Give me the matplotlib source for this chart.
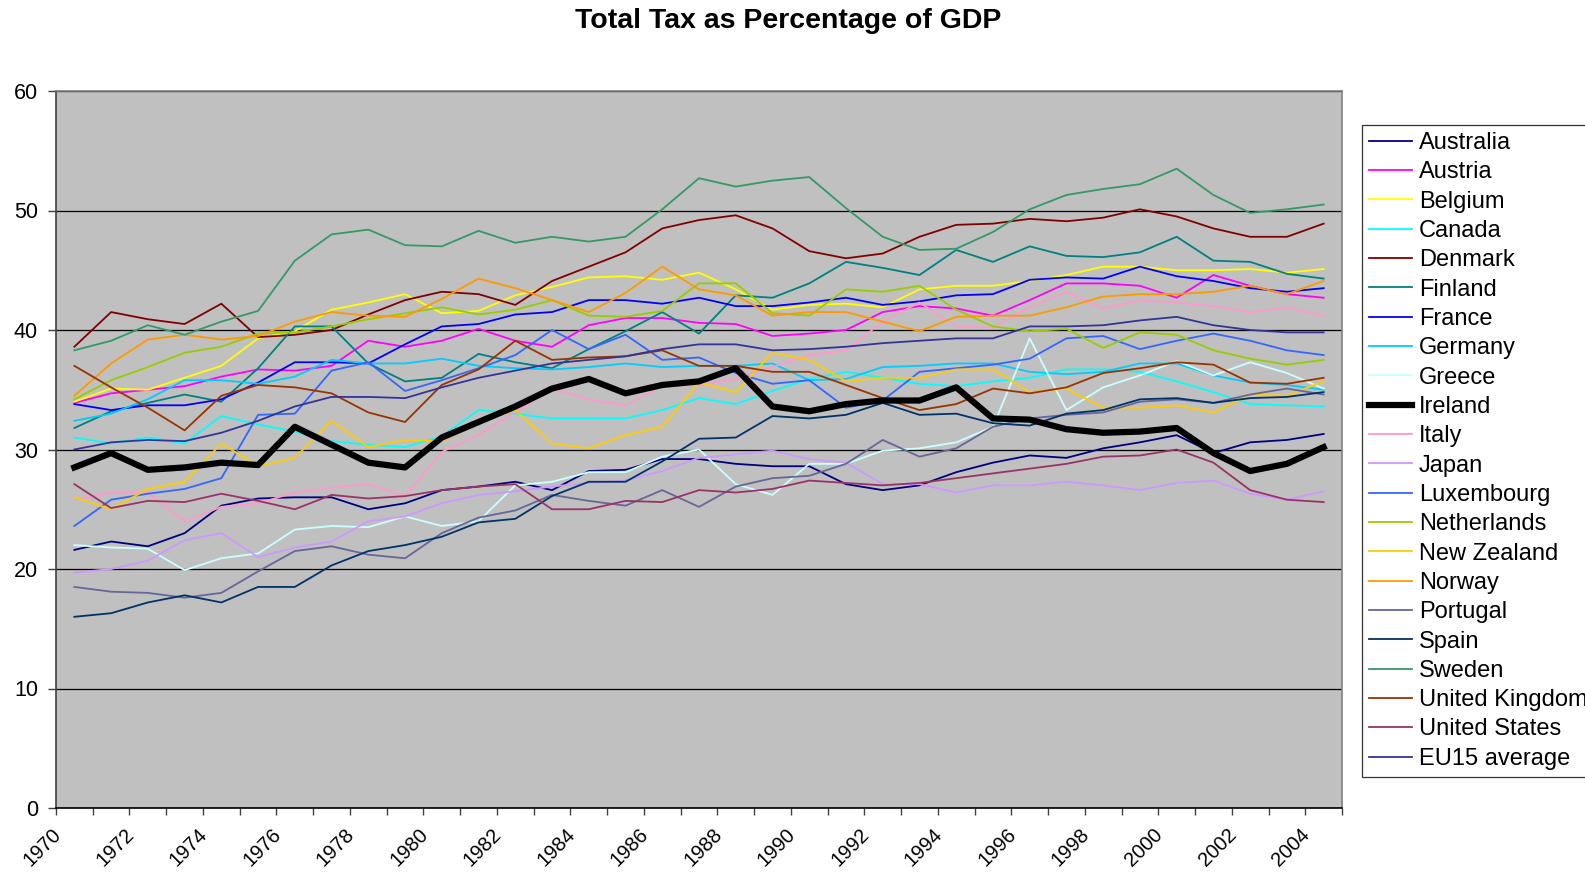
import numpy as np
import matplotlib.pyplot as plt
import matplotlib.transforms as mtransforms

plt.rcParams['font.family'] = ['Liberation Sans', 'DejaVu Sans']

years = list(range(1970, 2005))

australia = [21.6, 22.3, 21.9, 23.0, 25.3, 25.9, 26.0, 26.0, 25.0, 25.5, 26.6, 26.9,
             27.3, 26.6, 28.2, 28.3, 29.2, 29.2, 28.8, 28.6, 28.6, 27.1, 26.6, 27.0,
             28.1, 28.9, 29.5, 29.3, 30.1, 30.6, 31.2, 29.7, 30.6, 30.8, 31.3]
austria = [33.9, 34.7, 35.0, 35.3, 36.1, 36.7, 36.6, 37.0, 39.1, 38.6, 39.1, 40.1,
           39.1, 38.6, 40.4, 41.0, 41.0, 40.6, 40.5, 39.5, 39.7, 40.0, 41.5, 42.0,
           41.8, 41.2, 42.5, 43.9, 43.9, 43.7, 42.7, 44.6, 43.7, 43.0, 42.7]
belgium = [34.0, 35.1, 35.0, 36.0, 37.0, 39.3, 39.9, 41.7, 42.3, 43.0, 41.4, 41.6,
           42.9, 43.6, 44.4, 44.5, 44.2, 44.8, 43.4, 41.7, 42.1, 42.2, 41.9, 43.4,
           43.7, 43.7, 44.1, 44.6, 45.3, 45.3, 45.0, 45.0, 45.1, 44.8, 45.1]
canada = [31.0, 30.5, 31.0, 30.5, 32.8, 32.1, 31.5, 30.7, 30.4, 30.2, 31.1, 33.3,
          33.0, 32.6, 32.6, 32.6, 33.3, 34.3, 33.8, 34.9, 35.9, 36.5, 36.0, 35.5,
          35.3, 35.7, 36.0, 36.7, 36.7, 36.5, 35.7, 34.8, 33.8, 33.7, 33.6]
denmark = [38.6, 41.5, 40.9, 40.5, 42.2, 39.4, 39.6, 40.0, 41.3, 42.5, 43.2, 43.0,
           42.1, 44.1, 45.3, 46.5, 48.5, 49.2, 49.6, 48.5, 46.6, 46.0, 46.4, 47.8,
           48.8, 48.9, 49.3, 49.1, 49.4, 50.1, 49.5, 48.5, 47.8, 47.8, 48.9]
finland = [31.8, 33.2, 33.9, 34.6, 34.0, 36.8, 40.3, 40.3, 37.2, 35.7, 36.0, 38.0,
           37.3, 36.8, 38.4, 39.9, 41.5, 39.7, 42.9, 42.7, 43.9, 45.7, 45.2, 44.6,
           46.7, 45.7, 47.0, 46.2, 46.1, 46.5, 47.8, 45.8, 45.7, 44.7, 44.3]
france = [33.8, 33.3, 33.7, 33.7, 34.2, 35.6, 37.3, 37.3, 37.2, 38.8, 40.3, 40.5,
          41.3, 41.5, 42.5, 42.5, 42.2, 42.7, 42.0, 42.0, 42.3, 42.7, 42.1, 42.4,
          42.9, 43.0, 44.2, 44.4, 44.3, 45.3, 44.5, 44.1, 43.5, 43.2, 43.5]
germany = [32.4, 33.0, 34.2, 35.8, 35.8, 35.5, 36.1, 37.5, 37.2, 37.2, 37.6, 37.0,
           36.8, 36.7, 36.9, 37.2, 36.9, 37.0, 37.0, 37.2, 35.8, 35.9, 36.9, 37.0,
           37.2, 37.2, 36.5, 36.3, 36.5, 37.2, 37.2, 36.2, 35.6, 35.4, 35.0]
greece = [22.0, 21.8, 21.7, 19.9, 20.9, 21.3, 23.3, 23.6, 23.5, 24.4, 23.6, 24.0,
          27.0, 27.3, 28.1, 28.1, 29.4, 30.0, 27.1, 26.2, 28.8, 28.8, 29.9, 30.1,
          30.6, 31.9, 39.3, 33.3, 35.2, 36.2, 37.4, 36.2, 37.3, 36.4, 35.1]
ireland = [28.5, 29.7, 28.3, 28.5, 28.9, 28.7, 31.9, 30.4, 28.9, 28.5, 31.0, 32.3,
           33.6, 35.1, 35.9, 34.7, 35.4, 35.7, 36.8, 33.6, 33.2, 33.8, 34.1, 34.1,
           35.2, 32.6, 32.5, 31.7, 31.4, 31.5, 31.8, 29.7, 28.2, 28.8, 30.2]
italy = [25.8, 26.4, 26.4, 24.0, 25.2, 25.5, 26.4, 26.8, 27.1, 26.1, 29.8, 31.2,
         33.1, 35.1, 34.2, 33.7, 35.3, 35.4, 35.9, 36.9, 37.9, 38.3, 40.7, 42.3,
         40.3, 40.2, 41.9, 43.2, 41.8, 42.5, 42.3, 42.0, 41.5, 41.9, 41.2]
japan = [19.7, 20.0, 20.7, 22.4, 23.0, 21.0, 21.8, 22.3, 24.0, 24.4, 25.5, 26.2,
         26.5, 26.9, 27.2, 27.4, 28.2, 29.3, 29.6, 29.9, 29.2, 28.9, 27.1, 27.1,
         26.4, 27.0, 27.0, 27.3, 27.0, 26.6, 27.2, 27.4, 26.3, 25.8, 26.5]
luxembourg = [23.6, 25.8, 26.3, 26.7, 27.6, 32.9, 33.0, 36.6, 37.3, 34.9, 35.8, 36.8,
              37.9, 40.0, 38.4, 39.6, 37.5, 37.7, 36.4, 35.5, 35.8, 33.5, 34.1, 36.5,
              36.8, 37.1, 37.6, 39.3, 39.5, 38.4, 39.1, 39.7, 39.1, 38.3, 37.9]
netherlands = [34.2, 35.8, 36.9, 38.1, 38.6, 39.7, 39.8, 40.3, 40.9, 41.4, 41.9, 41.3,
               41.7, 42.5, 41.2, 41.1, 41.6, 43.9, 43.9, 41.4, 41.2, 43.4, 43.2, 43.7,
               41.7, 40.3, 39.9, 40.1, 38.5, 39.8, 39.6, 38.3, 37.6, 37.1, 37.5]
new_zealand = [26.0, 25.0, 26.7, 27.3, 30.5, 28.6, 29.3, 32.4, 30.2, 30.8, 30.7, 32.3,
               33.3, 30.5, 30.1, 31.2, 31.9, 35.6, 34.8, 38.1, 37.5, 35.7, 36.0, 36.0,
               36.7, 36.7, 34.8, 35.1, 33.5, 33.5, 33.7, 33.1, 34.6, 34.5, 35.7]
norway = [34.5, 37.2, 39.2, 39.6, 39.2, 39.5, 40.7, 41.5, 41.2, 41.1, 42.6, 44.3,
          43.5, 42.5, 41.5, 43.1, 45.3, 43.4, 42.9, 41.2, 41.5, 41.5, 40.7, 39.9,
          41.1, 41.2, 41.2, 41.9, 42.8, 43.0, 43.0, 43.2, 43.7, 43.0, 44.1]
portugal = [18.5, 18.1, 18.0, 17.6, 18.0, 19.8, 21.5, 21.9, 21.2, 20.9, 23.0, 24.3,
            24.9, 26.2, 25.7, 25.3, 26.6, 25.2, 26.9, 27.6, 27.8, 28.8, 30.8, 29.4,
            30.1, 31.9, 32.6, 32.9, 33.1, 34.0, 34.2, 33.9, 34.6, 35.1, 34.6]
spain = [16.0, 16.3, 17.2, 17.8, 17.2, 18.5, 18.5, 20.3, 21.5, 22.0, 22.7, 23.9,
         24.2, 26.1, 27.3, 27.3, 29.0, 30.9, 31.0, 32.8, 32.6, 32.9, 33.9, 32.9,
         33.0, 32.2, 32.0, 33.0, 33.3, 34.2, 34.3, 33.9, 34.3, 34.4, 34.8]
sweden = [38.3, 39.1, 40.4, 39.6, 40.7, 41.6, 45.8, 48.0, 48.4, 47.1, 47.0, 48.3,
          47.3, 47.8, 47.4, 47.8, 50.1, 52.7, 52.0, 52.5, 52.8, 50.2, 47.8, 46.7,
          46.8, 48.2, 50.1, 51.3, 51.8, 52.2, 53.5, 51.3, 49.8, 50.1, 50.5]
united_kingdom = [37.0, 35.2, 33.5, 31.6, 34.5, 35.4, 35.2, 34.7, 33.1, 32.3, 35.4, 36.7,
                  39.1, 37.5, 37.7, 37.8, 38.3, 37.0, 37.0, 36.5, 36.5, 35.4, 34.3, 33.3,
                  33.8, 35.1, 34.7, 35.2, 36.4, 36.8, 37.3, 37.1, 35.6, 35.5, 36.0]
united_states = [27.1, 25.1, 25.7, 25.6, 26.3, 25.7, 25.0, 26.2, 25.9, 26.1, 26.6, 26.9,
                 27.1, 25.0, 25.0, 25.7, 25.6, 26.6, 26.4, 26.7, 27.4, 27.2, 27.0, 27.2,
                 27.6, 28.0, 28.4, 28.8, 29.4, 29.5, 30.0, 28.9, 26.6, 25.8, 25.6]
eu15 = [30.0, 30.6, 30.8, 30.7, 31.4, 32.4, 33.6, 34.4, 34.4, 34.3, 35.2, 36.0,
        36.6, 37.2, 37.5, 37.8, 38.4, 38.8, 38.8, 38.3, 38.4, 38.6, 38.9, 39.1,
        39.3, 39.3, 40.3, 40.3, 40.4, 40.8, 41.1, 40.4, 40.0, 39.8, 39.8]

names = ['Australia', 'Austria', 'Belgium', 'Canada', 'Denmark', 'Finland', 'France',
         'Germany', 'Greece', 'Ireland', 'Italy', 'Japan', 'Luxembourg', 'Netherlands',
         'New Zealand', 'Norway', 'Portugal', 'Spain', 'Sweden', 'United Kingdom',
         'United States', 'EU15 average']
series = [australia, austria, belgium, canada, denmark, finland, france, germany,
          greece, ireland, italy, japan, luxembourg, netherlands, new_zealand, norway,
          portugal, spain, sweden, united_kingdom, united_states, eu15]
colors = ['#000080', '#FF00FF', '#FFFF00', '#00FFFF', '#800000', '#008080', '#0000FF',
          '#00CCFF', '#CCFFFF', '#000000', '#FF99CC', '#CC99FF', '#3366FF', '#99CC00',
          '#FFCC00', '#FF9900', '#666699', '#003366', '#339966', '#993300', '#993366',
          '#333399']

fig = plt.figure(figsize=(15.85, 8.74), dpi=100)
ax = fig.add_axes([56 / 1585, 1 - 808 / 874, 1286 / 1585, 717 / 874])
ax.set_facecolor('#C0C0C0')

x = np.arange(len(years))
for name, vals, c in zip(names, series, colors):
    lw = 4.5 if name == 'Ireland' else 1.3
    ax.plot(x, vals, color=c, lw=lw, label=name, zorder=3 if name != 'Ireland' else 4)

ax.set_xlim(-0.5, len(years) - 0.5)
ax.set_ylim(0, 60)
ax.set_yticks(range(0, 61, 10))
ax.yaxis.grid(True, color='black', lw=0.9)
ax.set_axisbelow(True)
ax.tick_params(axis='y', labelsize=15.5, length=6, width=1, pad=7, color='#404040')

# category boundaries get tick marks, every other year gets a slanted label
ax.set_xticks(np.arange(len(years) + 1) - 0.5)
ax.set_xticklabels([])
ax.tick_params(axis='x', length=5, width=1, color='#404040')
lab_trans = (mtransforms.blended_transform_factory(ax.transData, ax.transAxes)
             + mtransforms.ScaledTranslation(-5 / 100, -17 / 100, fig.dpi_scale_trans))
for i, y in enumerate(years):
    if (y - 1970) % 2 == 0:
        ax.text(i - 0.5, 0, str(y), transform=lab_trans, rotation=45,
                rotation_mode='anchor', ha='right', va='top', fontsize=14.5)

ax.spines['left'].set_color('#404040')
ax.spines['left'].set_linewidth(1.2)
ax.spines['bottom'].set_color('black')
ax.spines['bottom'].set_linewidth(1.2)
for s in ['top', 'right']:
    ax.spines[s].set_color('#808080')
    ax.spines[s].set_linewidth(1.2)

fig.text(0.497, 1 - 20.5 / 874, 'Total Tax as Percentage of GDP', fontsize=20.5,
         fontweight='bold', ha='center', va='center')

leg = ax.legend(loc='upper left', bbox_to_anchor=(1362 / 1585, 1 - 125 / 874),
                bbox_transform=fig.transFigure, fontsize=17, frameon=True,
                fancybox=False, edgecolor='black', handlelength=1.8,
                handletextpad=0.3, labelspacing=0.31, borderpad=0.3,
                borderaxespad=0)
leg.get_frame().set_linewidth(0.9)

fig.savefig('out.png', dpi=100)
